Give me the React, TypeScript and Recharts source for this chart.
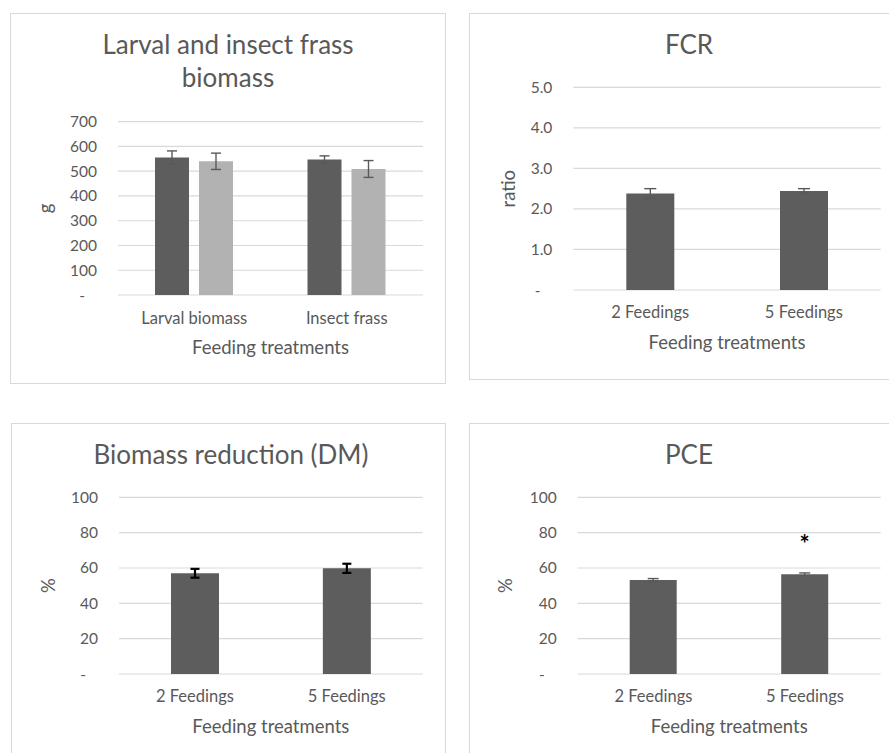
import React from "react";
import { BarChart, Bar, XAxis, YAxis, CartesianGrid, ErrorBar, LabelList } from "recharts";

const FONT = "Lato, 'Open Sans', sans-serif";
const TEXT = "#595959";
const GRID = "#d9d9d9";
const DARK = "#5d5d5d";
const LIGHT = "#b2b2b2";

// larval / insect frass biomass (g)
const biomassCategories = ["Larval biomass", "Insect frass"];
const biomassTwoFeedings = [555, 547];
const biomassTwoFeedingsErr = [27, 15];
const biomassFiveFeedings = [540, 509];
const biomassFiveFeedingsErr = [33, 34];
const biomassTicks = [0, 100, 200, 300, 400, 500, 600, 700];

// FCR
const feedingCategories = ["2 Feedings", "5 Feedings"];
const fcrValues = [2.38, 2.44];
const fcrErr = [0.12, 0.06];
const fcrTicks = [0, 1, 2, 3, 4, 5];

// biomass reduction (DM), %
const reductionValues = [57.0, 59.8];
const reductionErr = [2.5, 2.6];

// PCE, %
const pceValues = [53.2, 56.4];
const pceErr = [0.8, 0.8];
const pceMarks = ["", "*"];

const percentTicks = [0, 20, 40, 60, 80, 100];

const biomassData = biomassCategories.map((name, i) => ({
  name,
  two: biomassTwoFeedings[i],
  twoErr: biomassTwoFeedingsErr[i],
  five: biomassFiveFeedings[i],
  fiveErr: biomassFiveFeedingsErr[i],
}));
const fcrData = feedingCategories.map((name, i) => ({ name, value: fcrValues[i], err: fcrErr[i] }));
const reductionData = feedingCategories.map((name, i) => ({ name, value: reductionValues[i], err: reductionErr[i] }));
const pceData = feedingCategories.map((name, i) => ({ name, value: pceValues[i], err: pceErr[i], mark: pceMarks[i] }));

const dash = "-\u00a0\u00a0\u00a0";
const fmtInt = (v: number) => (v === 0 ? dash : String(v));
const fmtOne = (v: number) => (v === 0 ? dash : v.toFixed(1));

const yTickStyle = { fontSize: 15.5, fill: TEXT, fontFamily: FONT };
const xTickStyle = { fontSize: 16.5, fill: TEXT, fontFamily: FONT };

type Box = { left: number; top: number; width: number; height: number };

interface PanelProps {
  border: Box;
  chart: Box;
  margin: { top: number; right: number; bottom: number; left: number };
  yWidth: number;
  title: string[];
  titleBox: { left: number; width: number; top: number };
  yLabel: string;
  yLabelGap: number;
  xTickMargin: number;
  barGap?: number;
  data: any[];
  ticks: number[];
  fmt: (v: number) => string;
  children: React.ReactNode;
}

function Panel(p: PanelProps) {
  const renderX = (props: any) => {
    const vb = props.viewBox;
    return (
      <text x={vb.x + vb.width / 2} y={vb.y + 59} textAnchor="middle" fontSize={18.5} fill={TEXT} fontFamily={FONT}>
        Feeding treatments
      </text>
    );
  };
  const renderY = (props: any) => {
    const vb = props.viewBox;
    const x = vb.x + vb.width - p.yLabelGap;
    const y = vb.y + vb.height / 2;
    return (
      <text x={x} y={y} transform={`rotate(-90, ${x}, ${y})`} textAnchor="middle" fontSize={18.5} fill={TEXT} fontFamily={FONT}>
        {p.yLabel}
      </text>
    );
  };
  return (
    <>
      <div
        style={{
          position: "absolute",
          left: p.border.left,
          top: p.border.top,
          width: p.border.width,
          height: p.border.height,
          border: `1px solid ${GRID}`,
          boxSizing: "border-box",
        }}
      />
      <div
        style={{
          position: "absolute",
          left: p.titleBox.left,
          top: p.titleBox.top,
          width: p.titleBox.width,
          textAlign: "center",
          fontSize: 26,
          lineHeight: "33px",
          color: TEXT,
          fontFamily: FONT,
        }}
      >
        {p.title.map((t, i) => (
          <div key={i}>{t}</div>
        ))}
      </div>
      <div style={{ position: "absolute", left: p.chart.left, top: p.chart.top }}>
        <BarChart width={p.chart.width} height={p.chart.height} data={p.data} margin={p.margin} barGap={p.barGap ?? 4}>
          <CartesianGrid vertical={false} stroke={GRID} strokeWidth={1.2} />
          <XAxis
            dataKey="name"
            height={30}
            axisLine={false}
            tickLine={false}
            tickSize={0}
            tickMargin={p.xTickMargin}
            interval={0}
            tick={xTickStyle}
            label={renderX}
          />
          <YAxis
            width={p.yWidth}
            domain={[p.ticks[0], p.ticks[p.ticks.length - 1]]}
            ticks={p.ticks}
            tickFormatter={p.fmt}
            axisLine={false}
            tickLine={false}
            tickSize={0}
            tickMargin={21}
            tick={yTickStyle}
            label={renderY}
          />
          {p.children}
        </BarChart>
      </div>
    </>
  );
}

const renderMark = (props: any) => {
  const { x, y, width, value } = props;
  if (!value) return null;
  return (
    <text x={x + width / 2} y={y - 21} textAnchor="middle" fontSize={24} fontWeight="bold" fill="#000" fontFamily={FONT}>
      {value}
    </text>
  );
};

export default function App() {
  return (
    <div
      style={{
        position: "absolute",
        left: 0,
        top: 0,
        width: 889,
        height: 753,
        overflow: "hidden",
        background: "#fff",
        fontFamily: FONT,
      }}
    >
      <Panel
        border={{ left: 10, top: 13, width: 436, height: 371 }}
        chart={{ left: 10, top: 13, width: 435, height: 371 }}
        margin={{ top: 108.7, right: 22, bottom: 59, left: 0 }}
        yWidth={108}
        title={["Larval and insect frass", "biomass"]}
        titleBox={{ left: 10, width: 436, top: 28.4 }}
        yLabel="g"
        yLabelGap={66}
        xTickMargin={17.3}
        barGap={10}
        data={biomassData}
        ticks={biomassTicks}
        fmt={fmtInt}
      >
        <Bar dataKey="two" fill={DARK} barSize={34} isAnimationActive={false}>
          <ErrorBar dataKey="twoErr" width={5} stroke={TEXT} strokeWidth={1.4} isAnimationActive={false} />
        </Bar>
        <Bar dataKey="five" fill={LIGHT} barSize={34} isAnimationActive={false}>
          <ErrorBar dataKey="fiveErr" width={5} stroke={TEXT} strokeWidth={1.4} isAnimationActive={false} />
        </Bar>
      </Panel>

      <Panel
        border={{ left: 469, top: 13, width: 460, height: 367 }}
        chart={{ left: 469, top: 13, width: 420, height: 366 }}
        margin={{ top: 74.3, right: 8.3, bottom: 59, left: 0 }}
        yWidth={104.3}
        title={["FCR"]}
        titleBox={{ left: 469, width: 440, top: 28.4 }}
        yLabel="ratio"
        yLabelGap={58}
        xTickMargin={16.6}
        data={fcrData}
        ticks={fcrTicks}
        fmt={fmtOne}
      >
        <Bar dataKey="value" fill={DARK} barSize={48} isAnimationActive={false}>
          <ErrorBar dataKey="err" width={6} stroke={TEXT} strokeWidth={1.4} isAnimationActive={false} />
        </Bar>
      </Panel>

      <Panel
        border={{ left: 11, top: 423, width: 435, height: 400 }}
        chart={{ left: 11, top: 423, width: 434, height: 330 }}
        margin={{ top: 74.3, right: 22.3, bottom: 49, left: 0 }}
        yWidth={108}
        title={["Biomass reduction (DM)"]}
        titleBox={{ left: 11, width: 440, top: 438.4 }}
        yLabel="%"
        yLabelGap={64}
        xTickMargin={16.6}
        data={reductionData}
        ticks={percentTicks}
        fmt={fmtInt}
      >
        <Bar dataKey="value" fill={DARK} barSize={48} isAnimationActive={false}>
          <ErrorBar dataKey="err" width={4.5} stroke="#000" strokeWidth={2.2} isAnimationActive={false} />
        </Bar>
      </Panel>

      <Panel
        border={{ left: 469, top: 423, width: 460, height: 400 }}
        chart={{ left: 469, top: 423, width: 420, height: 330 }}
        margin={{ top: 74.3, right: 8.3, bottom: 49, left: 0 }}
        yWidth={108.7}
        title={["PCE"]}
        titleBox={{ left: 469, width: 440, top: 438.4 }}
        yLabel="%"
        yLabelGap={66}
        xTickMargin={16.6}
        data={pceData}
        ticks={percentTicks}
        fmt={fmtInt}
      >
        <Bar dataKey="value" fill={DARK} barSize={47} isAnimationActive={false}>
          <ErrorBar dataKey="err" width={5.5} stroke={TEXT} strokeWidth={1.4} isAnimationActive={false} />
          <LabelList dataKey="mark" content={renderMark} />
        </Bar>
      </Panel>
    </div>
  );
}
